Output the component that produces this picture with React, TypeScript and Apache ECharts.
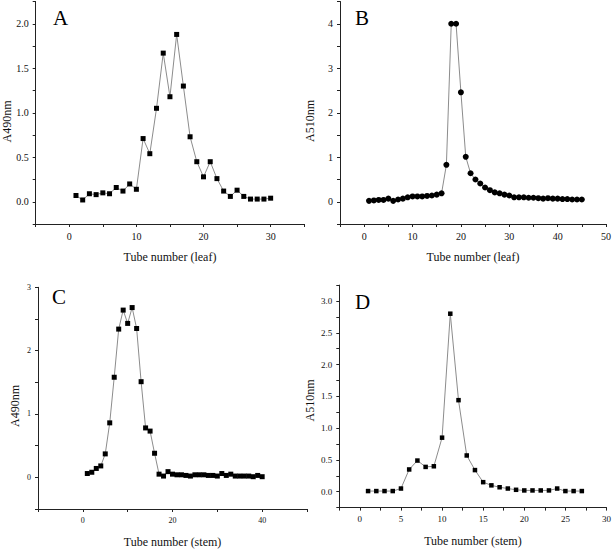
import React, { useEffect, useRef } from "react";
import * as echarts from "echarts";

// Panel A: leaf, A490nm
const leafA490: number[] = [
  0.07, 0.02, 0.09, 0.08, 0.1, 0.09, 0.16, 0.12, 0.2, 0.14,
  0.71, 0.54, 1.05, 1.67, 1.18, 1.88, 1.3, 0.73, 0.45, 0.28,
  0.45, 0.26, 0.12, 0.06, 0.13, 0.06, 0.03, 0.03, 0.03, 0.04,
];
// Panel B: leaf, A510nm
const leafA510: number[] = [
  0.02, 0.03, 0.04, 0.04, 0.07, 0.02, 0.05, 0.07, 0.1, 0.12,
  0.12, 0.12, 0.13, 0.14, 0.16, 0.19, 0.83, 4.0, 4.0, 2.46,
  1.01, 0.64, 0.5, 0.41, 0.32, 0.26, 0.21, 0.19, 0.16, 0.14,
  0.1, 0.1, 0.1, 0.09, 0.09, 0.08, 0.07, 0.08, 0.07, 0.07,
  0.06, 0.06, 0.05, 0.05, 0.05,
];
// Panel C: stem, A490nm
const stemA490: number[] = [
  0.06, 0.08, 0.14, 0.18, 0.37, 0.86, 1.58, 2.34, 2.64, 2.43,
  2.68, 2.35, 1.51, 0.78, 0.73, 0.38, 0.05, 0.02, 0.09, 0.05,
  0.04, 0.04, 0.03, 0.02, 0.04, 0.04, 0.04, 0.03, 0.03, 0.02,
  0.06, 0.03, 0.05, 0.02, 0.02, 0.02, 0.02, 0.01, 0.03, 0.01,
];
// Panel D: stem, A510nm
const stemA510: number[] = [
  0.01, 0.01, 0.01, 0.01, 0.05, 0.35, 0.49, 0.39, 0.4, 0.85,
  2.8, 1.44, 0.57, 0.34, 0.15, 0.1, 0.07, 0.05, 0.03, 0.02,
  0.02, 0.02, 0.02, 0.05, 0.01, 0.01, 0.01,
];

const panelLetters = ["A", "B", "C", "D"];
const yTitles = ["A490nm", "A510nm", "A490nm", "A510nm"];
const xTitles = ["Tube number (leaf)", "Tube number (leaf)", "Tube number (stem)", "Tube number (stem)"];

const FONT = "'Liberation Serif', 'Times New Roman', serif";

const toPairs = (vals: number[]) => vals.map((v, i) => [i + 1, v]);

const multipleOf = (step: number) => (v: number) =>
  Math.abs(v / step - Math.round(v / step)) < 1e-6;

export default function App() {
  const ref = useRef<HTMLDivElement>(null);

  useEffect(() => {
    if (!ref.current) return;
    const chart = echarts.init(ref.current, null, { renderer: "svg" });

    const grids = [
      { left: 35.7, top: 1.5, width: 268.5, height: 222.5 },
      { left: 340, top: 1.5, width: 268.3, height: 222.5 },
      { left: 38, top: 287.3, width: 269, height: 222 },
      { left: 339.3, top: 285.1, width: 269, height: 222.5 },
    ];

    const axisBase = (labelSize: number) => ({
      axisLine: { show: true, onZero: false, lineStyle: { color: "#222", width: 1 } },
      axisTick: { show: true, inside: false, length: 3, lineStyle: { color: "#222", width: 1 } },
      splitLine: { show: false },
      axisLabel: { fontFamily: FONT, fontSize: labelSize, color: "#111", margin: 7 },
    });

    const xSpecs = [
      { min: -5, max: 35, interval: 5, labelStep: 10, dec: 0, size: 10 },
      { min: -5, max: 50, interval: 5, labelStep: 10, dec: 0, size: 10 },
      { min: -10, max: 50, interval: 10, labelStep: 20, dec: 0, size: 8 },
      { min: -2.5, max: 30, interval: 2.5, labelStep: 5, dec: 0, size: 9 },
    ];
    const ySpecs = [
      { min: -0.25, max: 2.25, interval: 0.25, labelStep: 0.5, dec: 1, size: 10 },
      { min: -0.5, max: 4.5, interval: 0.5, labelStep: 1, dec: 0, size: 10 },
      { min: -0.5, max: 3, interval: 0.5, labelStep: 1, dec: 0, size: 8 },
      { min: -0.25, max: 3.25, interval: 0.25, labelStep: 0.5, dec: 1, size: 9 },
    ];

    const xAxis = xSpecs.map((s, i) => {
      const base = axisBase(s.size);
      const ok = multipleOf(s.labelStep);
      return {
        type: "value",
        gridIndex: i,
        min: s.min,
        max: s.max,
        interval: s.interval,
        ...base,
        axisLabel: {
          ...base.axisLabel,
          formatter: (v: number) => (ok(v) && v >= 0 ? v.toFixed(s.dec) : ""),
        },
        name: xTitles[i],
        nameLocation: "middle",
        nameGap: 27,
        nameTextStyle: { fontFamily: FONT, fontSize: 12, color: "#111" },
      };
    });

    const yAxis = ySpecs.map((s, i) => {
      const base = axisBase(s.size);
      const ok = multipleOf(s.labelStep);
      return {
        type: "value",
        gridIndex: i,
        min: s.min,
        max: s.max,
        interval: s.interval,
        ...base,
        axisLabel: {
          ...base.axisLabel,
          formatter: (v: number) => (ok(v) && v >= 0 ? v.toFixed(s.dec) : ""),
        },
      };
    });

    const datasets = [leafA490, leafA510, stemA490, stemA510];
    const symbols = ["rect", "circle", "rect", "rect"];
    const sizes = [5, 6, 5, 4.5];

    const series = datasets.map((d, i) => ({
      type: "line",
      xAxisIndex: i,
      yAxisIndex: i,
      data: toPairs(d),
      symbol: symbols[i],
      symbolSize: sizes[i],
      showAllSymbol: true,
      lineStyle: { color: "#8c8c8c", width: 1 },
      itemStyle: { color: "#000" },
    }));

    const letterPos = [
      [53, 28],
      [355, 28],
      [52, 307],
      [355, 312],
    ];
    const yTitlePos = [
      [7, 121.5],
      [310, 121],
      [15, 406],
      [310, 400.5],
    ];

    const graphic: any[] = [];
    panelLetters.forEach((l, i) => {
      graphic.push({
        type: "text",
        x: letterPos[i][0],
        y: letterPos[i][1],
        style: {
          text: l,
          fontFamily: FONT,
          fontSize: 21,
          fill: "#000",
          textAlign: "left",
          textVerticalAlign: "bottom",
        },
      });
    });
    yTitles.forEach((t, i) => {
      graphic.push({
        type: "text",
        x: yTitlePos[i][0],
        y: yTitlePos[i][1],
        rotation: Math.PI / 2,
        style: {
          text: t,
          fontFamily: FONT,
          fontSize: 12,
          fill: "#111",
          textAlign: "center",
          textVerticalAlign: "middle",
        },
      });
    });

    chart.setOption({
      animation: false,
      backgroundColor: "#fff",
      textStyle: { fontFamily: FONT },
      grid: grids.map((g) => ({ ...g, containLabel: false })),
      xAxis,
      yAxis,
      series,
      graphic,
    } as any);

    return () => chart.dispose();
  }, []);

  return (
    <div
      ref={ref}
      style={{ position: "fixed", left: 0, top: 0, width: 614, height: 549, background: "#fff" }}
    />
  );
}
